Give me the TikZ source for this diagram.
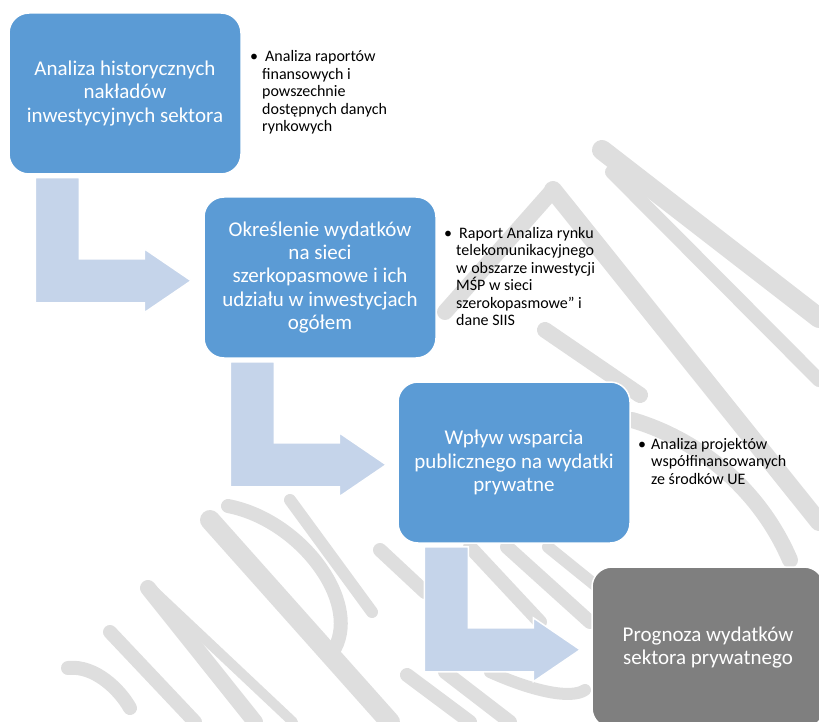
\documentclass[tikz,border=0pt]{standalone}
\usepackage{fontspec}
\setmainfont{Carlito}
\definecolor{boxblue}{HTML}{5B9BD5}
\definecolor{boxgray}{HTML}{7F7F7F}
\definecolor{arrowblue}{HTML}{C5D4EA}
\definecolor{wmgray}{HTML}{DEDEDE}
\tikzset{
  stepbox/.style={draw=white, line width=1.5pt, fill=boxblue, rounded corners=20pt,
    minimum width=232pt, minimum height=161pt, text=white, align=center,
    font=\fontsize{21}{23.4}\selectfont, inner sep=0pt},
  notetext/.style={anchor=base west, align=left, font=\fontsize{16}{17.5}\selectfont,
    inner sep=0pt, text=black},
  bendarrow/.style={fill=arrowblue, draw=white, line width=1.5pt, line join=miter},
  wmstroke/.style={draw=wmgray, line cap=round},
}
\begin{document}
\begin{tikzpicture}[x=1pt,y=-1pt]
\useasboundingbox (0,0) rectangle (819,722);
\clip (0,0) rectangle (819,722);
% watermark (approximate)
\draw[wmstroke, line width=20pt] (602,150) -- (819,318);
\draw[wmstroke, line width=14pt] (612,172) -- (819,380);
\draw[wmstroke, line width=18pt] (553,190) -- (819,522);
\draw[wmstroke, line width=16pt] (553,190) -- (445,312);
\draw[wmstroke, line width=16pt] (545,330) -- (640,395);
\draw[wmstroke, line width=16pt] (632,420) .. controls (700,440) and (760,490) .. (790,560);
\draw[wmstroke, line width=14pt] (110,632) -- (195,722);
\draw[wmstroke, line width=16pt] (148,588) -- (255,722);
\draw[wmstroke, line width=10pt] (155,592) -- (293,722);
\draw[wmstroke, line width=20pt] (210,520) -- (390,722);
\draw[wmstroke, line width=14pt] (228,506) .. controls (300,520) and (360,600) .. (335,648);
\draw[wmstroke, line width=12pt] (290,500) -- (372,612);
\draw[wmstroke, line width=14pt] (68,668) .. controls (95,665) and (120,690) .. (130,708);
\draw[wmstroke, line width=14pt] (380,550) -- (425,592);
\draw[wmstroke, line width=14pt] (470,547) -- (540,622);
\draw[wmstroke, line width=14pt] (507,547) -- (590,622);
\draw[wmstroke, line width=12pt] (548,547) -- (595,585);
\draw[wmstroke, line width=14pt] (407,675) -- (470,722);
\draw[wmstroke, line width=14pt] (445,672) -- (510,722);
\draw[wmstroke, line width=12pt] (490,672) .. controls (530,690) and (570,700) .. (585,690);
% boxes
\node[stepbox] (b1) at (125,93.5) {Analiza historycznych\\nakładów\\inwestycyjnych sektora};
\node[stepbox] (b2) at (320,277.5) {Określenie wydatków\\na sieci\\szerkopasmowe i ich\\udziału w inwestycjach\\ogółem};
\node[stepbox] (b3) at (514,462.5) {Wpływ wsparcia\\publicznego na wydatki\\prywatne};
\node[stepbox, fill=boxgray] (b4) at (708,647.5) {Prognoza wydatków\\sektora prywatnego};
% bent arrows
\foreach \a in {b1,b2,b3}{
  \begin{scope}[shift={(\a.south west)}]
    \draw[bendarrow] (27,3) -- (71,3) -- (71,84) -- (136,84) -- (136,74) -- (183,106)
      -- (136,138) -- (136,128) -- (27,128) -- cycle;
  \end{scope}
}
% notes (anchor = baseline of last line)
\node[notetext] (n1) at (262,132) {\llap{\textbullet\hspace{4pt}}\hspace{3pt}Analiza raportów\\finansowych i\\powszechnie\\dostępnych danych\\rynkowych};
\node[notetext] (n2) at (456,325.5) {\llap{\textbullet\hspace{4pt}}\hspace{3pt}Raport Analiza rynku\\telekomunikacyjnego\\w obszarze inwestycji\\MŚP w sieci\\szerokopasmowe” i\\dane SIIS};
\node[notetext] (n3) at (651,484) {\llap{\textbullet\hspace{5pt}}Analiza projektów\\współfinansowanych\\ze środków UE};
\end{tikzpicture}
\end{document}
